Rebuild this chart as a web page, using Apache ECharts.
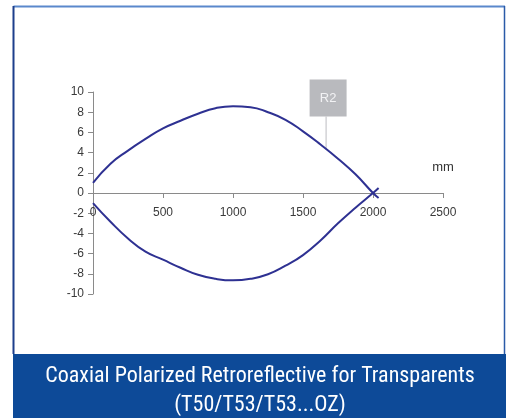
<!DOCTYPE html>
<html>
<head>
<meta charset="utf-8">
<style>
  html, body { margin: 0; padding: 0; background: #ffffff; }
  #chart { width: 506px; height: 418px; }
</style>
<script src="https://cdn.jsdelivr.net/npm/echarts@6/dist/echarts.min.js"></script>
</head>
<body>
<div id="chart"></div>
<script>
// Operating range of the sensor: upper and lower boundary of the detection lobe (distance in mm)
const distance = [0, 125, 250, 375, 500, 625, 750, 875, 1000, 1125, 1250, 1375, 1500, 1625, 1750, 1875, 2000, 2040];
const upperY = [1.0, 2.9, 4.2, 5.35, 6.4, 7.15, 7.85, 8.4, 8.6, 8.5, 8.0, 7.25, 6.1, 4.8, 3.4, 1.85, 0, -0.5];
const lowerY = [-1.0, -2.85, -4.5, -5.8, -6.6, -7.4, -8.1, -8.5, -8.65, -8.5, -8.05, -7.2, -6.15, -4.7, -3.0, -1.45, 0, 0.5];

const xTicks = [0, 500, 1000, 1500, 2000, 2500];
const yTicks = [-10, -8, -6, -4, -2, 0, 2, 4, 6, 8, 10];

const curveName = 'R2';
const unitLabel = 'mm';
const titleLines = ['Coaxial Polarized Retroreflective for Transparents', '(T50/T53/T53...OZ)'];
// point on the upper boundary where the callout attaches
const calloutAt = [1665, 4.3];

const zip = (xs, ys) => xs.map((x, i) => [x, ys[i]]);

const chart = echarts.init(document.getElementById('chart'), null, { renderer: 'canvas' });

const lineStyle = { color: '#2e3192', width: 2 };
const axisText = { color: '#3a3a3a', fontSize: 12, fontFamily: 'Liberation Sans, Arial, sans-serif' };
const gridTop = 92, gridBottom = 124, chartH = 418;
// the distance axis runs through y = 0, halfway down the plot
const xAxisShift = -(chartH - gridTop - gridBottom) / 2;

chart.setOption({
  animation: false,
  backgroundColor: '#ffffff',
  grid: { left: 93, right: 63, top: gridTop, bottom: gridBottom, containLabel: false },
  xAxis: {
    type: 'value',
    min: xTicks[0],
    max: xTicks[xTicks.length - 1],
    interval: 500,
    offset: xAxisShift,
    axisLine: { onZero: false, lineStyle: { color: '#8a8a8a', width: 1 } },
    axisTick: { show: true, length: 5, inside: false, lineStyle: { color: '#8a8a8a' } },
    axisLabel: Object.assign({ margin: 14, showMinLabel: true, showMaxLabel: true, formatter: v => String(v) }, axisText),
    splitLine: { show: false }
  },
  yAxis: {
    type: 'value',
    min: yTicks[0],
    max: yTicks[yTicks.length - 1],
    interval: 2,
    axisLine: { show: true, onZero: false, lineStyle: { color: '#8a8a8a', width: 1 } },
    axisTick: { show: true, length: 5, lineStyle: { color: '#8a8a8a' } },
    axisLabel: Object.assign({ margin: 9, formatter: v => String(v) }, axisText),
    splitLine: { show: false }
  },
  series: [
    { name: curveName, type: 'line', data: zip(distance, upperY), smooth: 0.5, showSymbol: false, lineStyle: lineStyle, z: 3 },
    { name: curveName + '-', type: 'line', data: zip(distance, lowerY), smooth: 0.5, showSymbol: false, lineStyle: lineStyle, z: 3 }
  ]
});

// Callout box, unit label, frame and caption band
const p = chart.convertToPixel({ gridIndex: 0 }, calloutAt);
const boxW = 37, boxH = 37, gap = 33;
const boxX = p[0] - 16.5, boxY = p[1] - gap - boxH;

chart.setOption({
  graphic: [
    { type: 'line', shape: { x1: p[0], y1: p[1], x2: p[0], y2: p[1] - gap }, style: { stroke: '#c8c8cc', lineWidth: 1.2 }, z: 2 },
    { type: 'rect', shape: { x: boxX, y: boxY, width: boxW, height: boxH }, style: { fill: '#b9babe' }, z: 4 },
    { type: 'text', x: boxX + boxW / 2, y: boxY + boxH / 2, style: { text: curveName, fill: '#f2f2f4', font: '13px Liberation Sans, Arial, sans-serif', align: 'center', verticalAlign: 'middle' }, z: 5 },
    { type: 'text', x: 443, y: 167, style: { text: unitLabel, fill: '#333333', font: '13px Liberation Sans, Arial, sans-serif', align: 'center', verticalAlign: 'middle' }, z: 5 },
    // outer frame
    { type: 'line', shape: { x1: 13.5, y1: 6.5, x2: 505, y2: 6.5 }, style: { stroke: '#5a88cc', lineWidth: 2 }, z: 6 },
    { type: 'line', shape: { x1: 13.5, y1: 6, x2: 13.5, y2: 354 }, style: { stroke: '#1d3f8c', lineWidth: 2 }, z: 6 },
    { type: 'line', shape: { x1: 504.5, y1: 6, x2: 504.5, y2: 354 }, style: { stroke: '#2a5aa8', lineWidth: 1.5 }, z: 6 },
    // caption band
    { type: 'rect', shape: { x: 13, y: 354, width: 493, height: 64 }, style: { fill: '#0d4a98' }, z: 6 },
    { type: 'text', x: 260, y: 376, style: { text: titleLines[0], fill: '#ffffff', font: '22px Liberation Sans Narrow, Roboto Condensed, Arial Narrow, sans-serif', align: 'center', verticalAlign: 'middle' }, z: 7 },
    { type: 'text', x: 260, y: 405, style: { text: titleLines[1], fill: '#ffffff', font: '22px Liberation Sans Narrow, Roboto Condensed, Arial Narrow, sans-serif', align: 'center', verticalAlign: 'middle' }, z: 7 }
  ]
});
</script>
</body>
</html>
